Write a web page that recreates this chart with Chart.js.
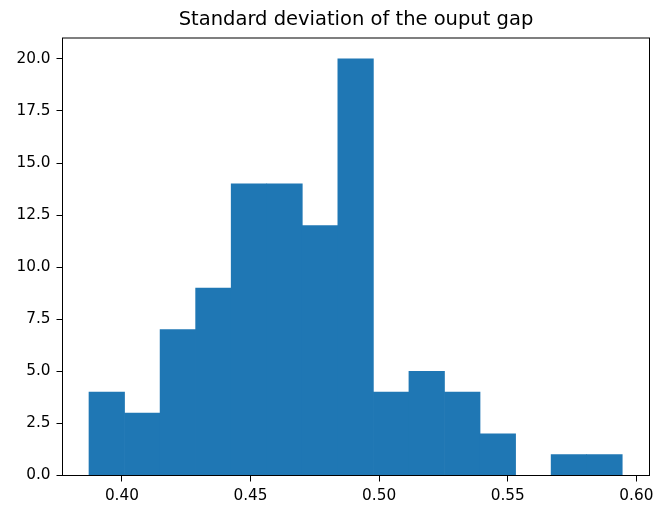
<!DOCTYPE html>
<html>
<head>
<meta charset="utf-8">
<script src="https://cdn.jsdelivr.net/npm/chart.js@4"></script>
<style>
  html, body { margin: 0; padding: 0; background: #fff; }
  #wrap { width: 657px; height: 507px; }
</style>
</head>
<body>
<div id="wrap"><canvas id="chart" width="657" height="507"></canvas></div>
<script>
// Histogramm: Anzahl pro Klasse
const counts = [4, 3, 7, 9, 14, 14, 12, 20, 4, 5, 4, 2, 0, 1, 1];
const binMin = 0.3872;
const binMax = 0.5945;
const xTicks = [0.40, 0.45, 0.50, 0.55, 0.60];
const yTicks = [0, 2.5, 5, 7.5, 10, 12.5, 15, 17.5, 20];

// Klassenmitten aus den Grenzen
const binWidth = (binMax - binMin) / counts.length;
const points = counts.map((c, i) => ({ x: binMin + (i + 0.5) * binWidth, y: c }));

// Rahmen oben und rechts wie bei matplotlib
const frame = {
    id: 'frame',
    afterDraw(chart) {
        const a = chart.chartArea;
        const ctx = chart.ctx;
        ctx.save();
        ctx.strokeStyle = '#000';
        ctx.lineWidth = 1;
        ctx.strokeRect(a.left, a.top, a.right - a.left, a.bottom - a.top);
        ctx.restore();
    }
};

const font = { family: 'DejaVu Sans', size: 15.3 };

new Chart(document.getElementById('chart'), {
    type: 'bar',
    data: {
        datasets: [{
            data: points,
            backgroundColor: '#1f77b4',
            borderWidth: 0,
            barPercentage: 1,
            categoryPercentage: 1
        }]
    },
    options: {
        responsive: false,
        animation: false,
        layout: { padding: { top: 0, right: 7.5, left: 0, bottom: 0 } },
        plugins: {
            legend: { display: false },
            tooltip: { enabled: false },
            title: {
                display: true,
                text: 'Standard deviation of the ouput gap',
                fullSize: false,
                color: '#000',
                font: { family: 'DejaVu Sans', size: 19.5, weight: 'normal' },
                padding: { top: 8.5, bottom: 6.1 }
            }
        },
        scales: {
            x: {
                type: 'linear',
                offset: false,
                min: 0.3769,
                max: 0.6051,
                afterBuildTicks: s => { s.ticks = xTicks.map(v => ({ value: v })); },
                afterFit: s => {
                    s.height = 31.5;
                    s.paddingLeft = 0;
                    s.paddingRight = 0;
                },
                ticks: {
                    color: '#000',
                    font: font,
                    padding: 5,
                    maxRotation: 0,
                    callback: v => v.toFixed(2)
                },
                grid: { drawOnChartArea: false, offset: false, tickLength: 6, color: '#000' },
                border: { display: true, color: '#000' }
            },
            y: {
                min: 0,
                max: 21,
                afterBuildTicks: s => { s.ticks = yTicks.map(v => ({ value: v })); },
                afterFit: s => {
                    s.width = 62.5;
                    s.paddingTop = 0;
                    s.paddingBottom = 0;
                },
                ticks: {
                    color: '#000',
                    font: font,
                    padding: 6,
                    callback: v => v.toFixed(1)
                },
                grid: { drawOnChartArea: false, tickLength: 6, color: '#000' },
                border: { display: true, color: '#000' }
            }
        }
    },
    plugins: [frame]
});
</script>
</body>
</html>
